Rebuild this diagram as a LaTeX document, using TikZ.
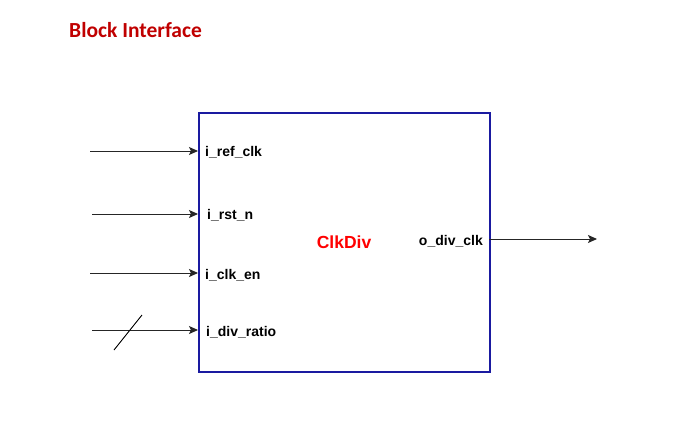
\documentclass[tikz,border=0pt]{standalone}
\usepackage{fontspec}
\setmainfont{Liberation Sans}
\newfontfamily\titlefont{Carlito}
\usetikzlibrary{arrows.meta}
\definecolor{boxblue}{HTML}{1A1AA0}
\definecolor{titlered}{HTML}{C00000}
\begin{document}
\begin{tikzpicture}[x=1pt,y=-1pt,
  port/.style={font=\bfseries\fontsize{14}{16}\selectfont, inner sep=0pt},
  sig/.style={-{Stealth[length=9pt,width=8pt,inset=2pt]}, line width=0.9pt, draw=black!85}]
\useasboundingbox (0,0) rectangle (680,425);
\node[anchor=west, inner sep=0pt, text=titlered, font=\titlefont\bfseries\fontsize{21.5}{23}\selectfont] (title) at (69,30) {Block Interface};
\node[draw=boxblue, line width=1.6pt, minimum width=291pt, minimum height=259pt, inner sep=0pt, anchor=north west] (blk) at (198,112) {};
\node[text=red, font=\bfseries\fontsize{17.5}{19}\selectfont, inner sep=0pt] (name) at (344,242) {ClkDiv};
% input ports
\coordinate (a1) at (90,151); \coordinate (b1) at (198,151);
\coordinate (a2) at (92,214); \coordinate (b2) at (198,214);
\coordinate (a3) at (90,273); \coordinate (b3) at (198,273);
\coordinate (a4) at (92,330); \coordinate (b4) at (198,330);
\coordinate (c1) at (489,239); \coordinate (c2) at (597,239);
\draw[sig] (a1) -- (b1);
\draw[sig] (a2) -- (b2);
\draw[sig] (a3) -- (b3);
\draw[sig] (a4) -- (b4);
\draw[sig] (c1) -- (c2);
\coordinate (s1) at (114,350); \coordinate (s2) at (142,315);
\draw[line width=0.9pt] (s1) -- (s2);
\node[port, anchor=west] (p1) at (205,152) {i\_ref\_clk};
\node[port, anchor=west] (p2) at (207,215) {i\_rst\_n};
\node[port, anchor=west] (p3) at (205,275) {i\_clk\_en};
\node[port, anchor=west] (p4) at (206,332) {i\_div\_ratio};
\node[port, anchor=east] (p5) at (483,241) {o\_div\_clk};
\end{tikzpicture}
\end{document}
